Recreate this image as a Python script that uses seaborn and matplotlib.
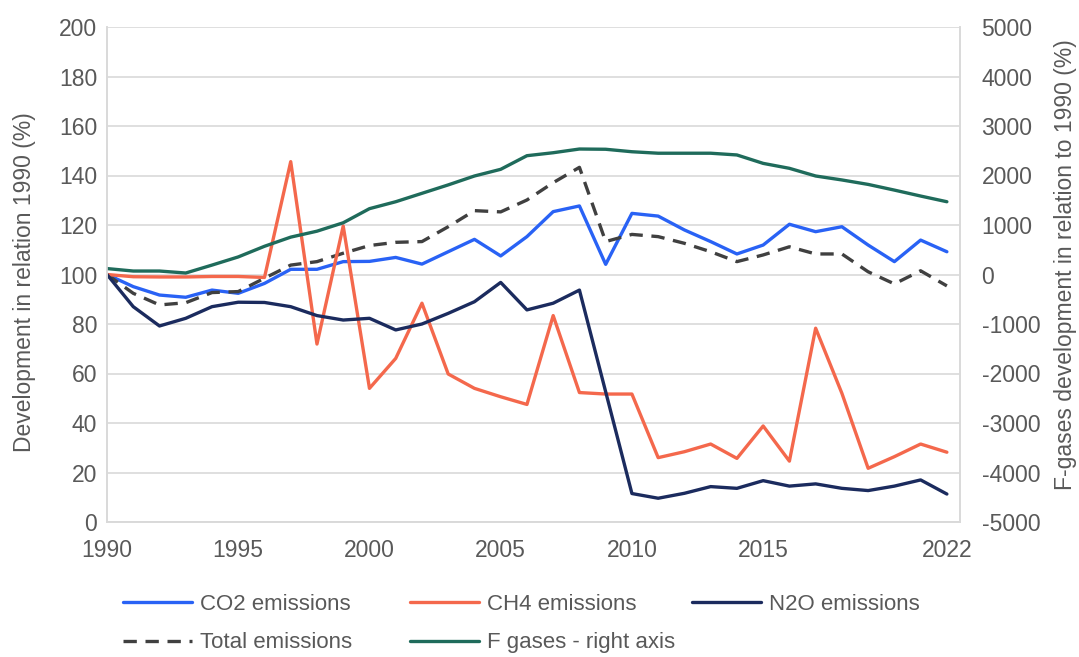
import matplotlib
matplotlib.use("Agg")
import matplotlib.pyplot as plt
import seaborn as sns
import pandas as pd

years = list(range(1990, 2023))
co2 = [100, 95.1, 91.7, 90.8, 93.7, 92.4, 96.4, 102.1, 102.1, 105.2, 105.3, 106.9, 104.2, 109.2, 114.2,
       107.5, 115.3, 125.4, 127.7, 104.1, 124.7, 123.6, 118.0, 113.3, 108.3, 111.9, 120.3, 117.3, 119.3,
       111.9, 105.2, 113.9, 109.2]
ch4 = [100, 99.1, 99.0, 99.0, 99.2, 99.2, 98.8, 145.6, 71.9, 119.6, 54.0, 66.1, 88.4, 59.8, 54.0,
       50.6, 47.5, 83.4, 52.3, 51.7, 51.7, 26.0, 28.4, 31.5, 25.7, 38.8, 24.6, 78.3, 52.0,
       21.7, 26.4, 31.5, 28.2]
n2o = [100, 87.0, 79.2, 82.3, 87.0, 88.8, 88.7, 87.0, 83.4, 81.6, 82.3, 77.6, 80.0, 84.3, 89.0,
       96.8, 85.7, 88.4, 93.7, 52.6, 11.5, 9.6, 11.6, 14.3, 13.6, 16.7, 14.5, 15.4, 13.6,
       12.7, 14.5, 17.0, 11.3]
total = [100, 92.4, 87.7, 88.6, 92.7, 93.1, 98.5, 103.8, 105.2, 108.6, 111.7, 113.0, 113.3, 119.3, 125.8,
         125.3, 130.1, 137.1, 143.3, 113.3, 116.2, 115.3, 112.6, 109.2, 105.2, 107.9, 111.2, 108.3, 108.3,
         101.1, 96.2, 101.5, 95.4]
fgases = [120, 70, 70, 30, 190, 355, 570, 755, 875, 1045, 1330, 1470, 1640, 1810, 1990,
          2125, 2400, 2460, 2535, 2530, 2480, 2450, 2450, 2450, 2415, 2245, 2145, 1990, 1910,
          1820, 1705, 1585, 1470]

x_labels = [1990, 1995, 2000, 2005, 2010, 2015, 2022]
left_ticks = list(range(0, 201, 20))
right_ticks = list(range(-5000, 5001, 1000))

sns.set_style("white")
plt.rcParams['font.family'] = ['Liberation Sans', 'DejaVu Sans']
plt.rcParams['axes.unicode_minus'] = False

TXT = '#595959'
GRID = '#D9D9D9'
c_co2 = '#2962F5'
c_ch4 = '#F4684C'
c_n2o = '#1B2B5E'
c_tot = '#404040'
c_fg = '#1F6B5B'
FS = 16.5

fig = plt.figure(figsize=(10.79, 6.57), dpi=100)
ax = fig.add_axes([107/1079, 1-522/657, (960-107)/1079, (522-27)/657])
ax2 = ax.twinx()

df = pd.DataFrame({'year': years, 'co2': co2, 'ch4': ch4, 'n2o': n2o, 'total': total, 'fg': fgases})

lw = 2.4
sns.lineplot(data=df, x='year', y='co2', ax=ax, color=c_co2, lw=lw, label='CO2 emissions', legend=False)
sns.lineplot(data=df, x='year', y='total', ax=ax, color=c_tot, lw=lw, label='Total emissions', legend=False)
ax.lines[-1].set_dashes((4, 2.6))
sns.lineplot(data=df, x='year', y='ch4', ax=ax, color=c_ch4, lw=lw, label='CH4 emissions', legend=False)
sns.lineplot(data=df, x='year', y='n2o', ax=ax, color=c_n2o, lw=lw, label='N2O emissions', legend=False)
sns.lineplot(data=df, x='year', y='fg', ax=ax2, color=c_fg, lw=lw, label='F gases - right axis', legend=False)

ax.set_xlim(1990, 2022.5)
ax.set_ylim(0, 200)
ax2.set_ylim(-5000, 5000)
ax.set_yticks(left_ticks)
ax2.set_yticks(right_ticks)
ax.set_xticks(years)
ax.set_xticklabels([str(y) if y in x_labels else '' for y in years])

ax.grid(axis='y', color=GRID, lw=1.2)
ax.set_axisbelow(True)
ax2.grid(False)

for a in (ax, ax2):
    for s in a.spines.values():
        s.set_color(GRID)
        s.set_linewidth(1.2)
    a.spines['top'].set_visible(False)

ax.tick_params(axis='x', length=5, color=GRID, width=1.2, labelsize=FS, labelcolor=TXT, pad=7, direction='out')
ax.tick_params(axis='y', length=0, labelsize=FS, labelcolor=TXT, pad=7)
ax2.tick_params(axis='y', length=0, labelsize=FS, labelcolor=TXT, pad=15.5)
for lab in ax2.get_yticklabels():
    lab.set_horizontalalignment('left')

ax.set_xlabel('')
ax.set_ylabel('Development in relation 1990 (%)', fontsize=FS, color=TXT)
ax2.set_ylabel('F-gases development in relation to 1990 (%)', fontsize=FS, color=TXT)
ax.yaxis.set_label_coords((36-107)/853, 0.485)
ax2.yaxis.set_label_coords((1054-107)/853, 0.519)

h_map = {l.get_label(): l for l in ax.get_lines() + ax2.get_lines()}
columns = [(123, ['CO2 emissions', 'Total emissions']),
           (410, ['CH4 emissions', 'F gases - right axis']),
           (692, ['N2O emissions'])]
for xpx, names in columns:
    fig.legend([h_map[k] for k in names], names, loc='upper left',
               bbox_to_anchor=(xpx/1079, 1-594/657), ncol=1, frameon=False, fontsize=FS-0.5,
               labelcolor=TXT, handlelength=3.1, handletextpad=0.36, labelspacing=0.78,
               borderpad=0, borderaxespad=0)

fig.savefig('out.png', dpi=100)
